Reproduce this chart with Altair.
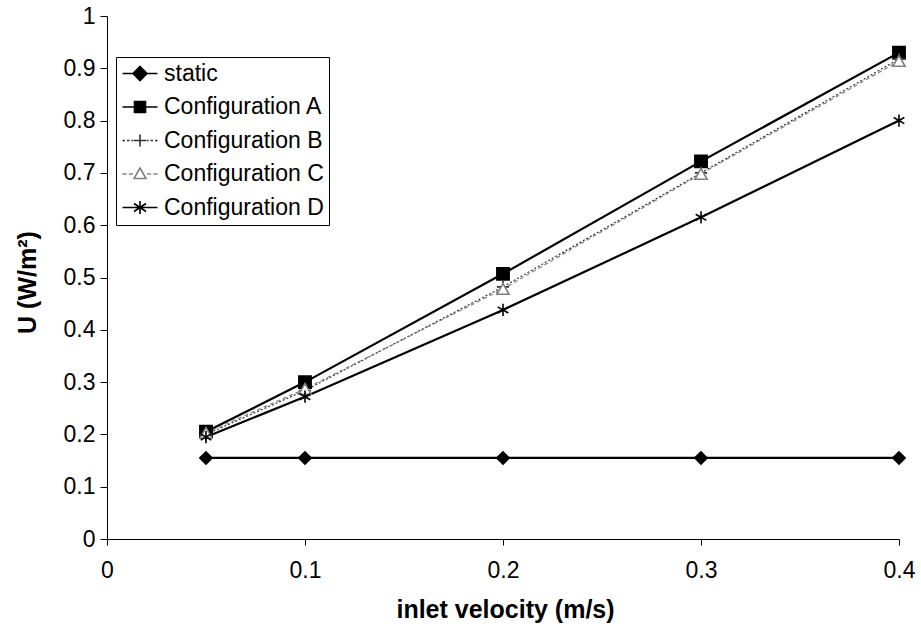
import altair as alt
import pandas as pd

# ---- data ----
velocity = [0.05, 0.1, 0.2, 0.3, 0.4]
u_static = [0.155, 0.155, 0.155, 0.155, 0.155]
u_conf_a = [0.205, 0.300, 0.507, 0.722, 0.930]
u_conf_b = [0.200, 0.284, 0.482, 0.700, 0.918]
u_conf_c = [0.203, 0.287, 0.478, 0.698, 0.914]
u_conf_d = [0.195, 0.272, 0.438, 0.615, 0.800]
series_names = ["static", "Configuration A", "Configuration B",
                "Configuration C", "Configuration D"]
y_ticks = [0, 0.1, 0.2, 0.3, 0.4, 0.5, 0.6, 0.7, 0.8, 0.9, 1.0]
x_ticks = [0, 0.1, 0.2, 0.3, 0.4]

rows = []
for name, vals in zip(series_names, [u_static, u_conf_a, u_conf_b, u_conf_c, u_conf_d]):
    for xv, yv in zip(velocity, vals):
        rows.append({"series": name, "velocity": xv, "U": yv})
df = pd.DataFrame(rows)

FONT = "Liberation Sans"

stroke_range = ["black", "black", "#333333", "#808080", "black"]
fill_range = ["black", "black", "transparent", "white", "transparent"]
point_shapes = ["diamond", "square", "M-1,0L1,0M0,-1L0,1", "triangle-up",
                "M0,-1L0,1M-0.87,-0.5L0.87,0.5M-0.87,0.5L0.87,-0.5"]
legend_shapes = [
    "M-1.75,0L1.75,0M0,-0.7L0.7,0L0,0.7L-0.7,0Z",
    "M-1.75,0L1.75,0M-0.55,-0.55L0.55,-0.55L0.55,0.55L-0.55,0.55Z",
    "M-1.75,0L-1.5,0M-1.3,0L-1.05,0M-0.85,0L-0.65,0M0.65,0L0.85,0M1.05,0L1.3,0M1.5,0L1.75,0M-0.6,0L0.6,0M0,-0.6L0,0.6",
    "M-1.75,0L-1.35,0M-1.1,0L-0.7,0M0.7,0L1.1,0M1.35,0L1.75,0M0,-0.6L0.6,0.45L-0.6,0.45Z",
    "M-1.75,0L1.75,0M0,-0.65L0,0.65M-0.6,-0.4L0.6,0.4M-0.6,0.4L0.6,-0.4",
]

x_enc = alt.X("velocity:Q",
              scale=alt.Scale(domain=[0, 0.4], nice=False, zero=False),
              axis=alt.Axis(values=x_ticks, format=".1~f", title="inlet velocity (m/s)",
                            titleX=398, titleY=70, titleBaseline="middle",
                            titleFontSize=25, titleFontWeight="bold",
                            labelFontSize=23, tickSize=6, labelPadding=14,
                            labelFlush=False))
y_enc = alt.Y("U:Q",
              scale=alt.Scale(domain=[0, 1], nice=False),
              axis=alt.Axis(values=y_ticks, format=".1~f", title="U (W/m²)",
                            titleX=-80, titleY=266, titleBaseline="middle",
                            titleAngle=270, titleAlign="center",
                            titleFontSize=25, titleFontWeight="bold",
                            labelFontSize=23, tickSize=7, labelPadding=5,
                            labelFlush=False))

base = alt.Chart(df)

solid_lines = base.transform_filter(
    alt.FieldOneOfPredicate(field="series", oneOf=["static", "Configuration A", "Configuration D"])
).mark_line(strokeWidth=2.2).encode(
    x=x_enc, y=y_enc, detail="series:N",
    stroke=alt.Stroke("series:N", scale=alt.Scale(domain=series_names, range=stroke_range), legend=None),
)

dashed_lines = base.transform_filter(
    alt.FieldOneOfPredicate(field="series", oneOf=["Configuration B", "Configuration C"])
).mark_line(strokeWidth=1.2).encode(
    x=x_enc, y=y_enc, detail="series:N",
    stroke=alt.Stroke("series:N", scale=alt.Scale(domain=series_names, range=stroke_range), legend=None),
    strokeDash=alt.StrokeDash("series:N",
                              scale=alt.Scale(domain=["Configuration B", "Configuration C"],
                                              range=[[2, 2], [4, 3]]),
                              legend=None),
)

points = base.mark_point(size=150, strokeWidth=1.6, opacity=1).encode(
    x=x_enc, y=y_enc,
    shape=alt.Shape("series:N", scale=alt.Scale(domain=series_names, range=point_shapes), legend=None),
    fill=alt.Fill("series:N", scale=alt.Scale(domain=series_names, range=fill_range), legend=None),
    stroke=alt.Stroke("series:N", scale=alt.Scale(domain=series_names, range=stroke_range), legend=None),
)

leg = alt.Legend(title=None, orient="none", legendX=9, legendY=41,
                 strokeColor="black", fillColor="white", padding=5,
                 symbolSize=400, symbolStrokeWidth=1.6, symbolOffset=7.5,
                 labelOffset=12.5, labelFontSize=23, labelFont=FONT,
                 labelColor="black", rowPadding=9.5, symbolOpacity=1,
                 cornerRadius=0)

legend_layer = base.mark_point(opacity=0, strokeWidth=1.6).encode(
    x=x_enc, y=y_enc,
    shape=alt.Shape("series:N", sort=series_names,
                    scale=alt.Scale(domain=series_names, range=legend_shapes), legend=leg),
    fill=alt.Fill("series:N", sort=series_names,
                  scale=alt.Scale(domain=series_names, range=fill_range), legend=leg),
    stroke=alt.Stroke("series:N", sort=series_names,
                      scale=alt.Scale(domain=series_names, range=stroke_range), legend=leg),
)

chart = alt.layer(solid_lines, dashed_lines, points, legend_layer).resolve_scale(
    shape="independent", fill="independent", stroke="independent", strokeDash="independent"
).properties(
    width=792, height=523,
    autosize=alt.AutoSizeParams(type="none"),
    padding={"left": 107, "top": 16, "right": 22, "bottom": 87},
    background="white",
).configure_view(stroke=None).configure_axis(
    grid=False, domainColor="black", tickColor="black", labelColor="black",
    titleColor="black", labelFont=FONT, titleFont=FONT, domainWidth=1, tickWidth=1,
)

chart.save("out.html", embed_options={"renderer": "svg", "actions": False})
